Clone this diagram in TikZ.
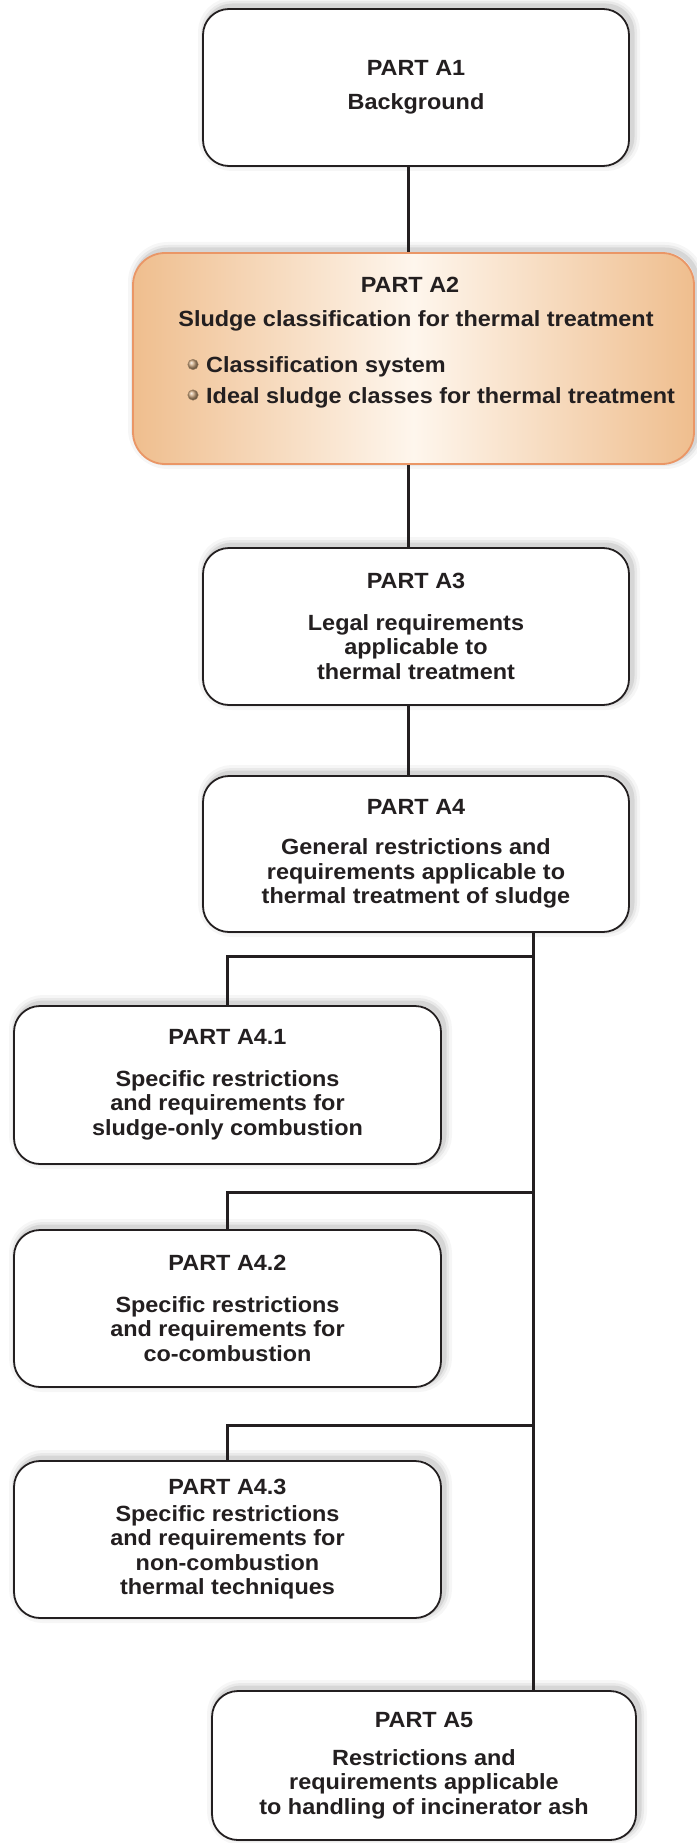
\documentclass[tikz,border=0pt]{standalone}
\usepackage{fontspec}
\setmainfont{Liberation Sans}[FakeStretch=1.065]
\usetikzlibrary{shadows}
\definecolor{ink}{RGB}{35,31,32}
\definecolor{a2edge}{RGB}{239,190,142}
\definecolor{a2mid}{RGB}{254,246,237}
\definecolor{a2line}{RGB}{234,150,102}
\definecolor{bullet}{RGB}{205,168,128}
\tikzset{
  softshadow/.style={
    general shadow={draw=black,draw opacity=0.035,line width=16pt,fill=none,shadow xshift=3pt,shadow yshift=3pt},
    general shadow={draw=black,draw opacity=0.05,line width=10pt,fill=none,shadow xshift=3pt,shadow yshift=3pt},
    general shadow={draw=black,draw opacity=0.08,line width=5pt,fill=none,shadow xshift=3pt,shadow yshift=3pt}},
  boxstyle/.style={rectangle,draw=ink,line width=1.8pt,rounded corners=26pt,fill=white,
    inner sep=0pt,align=center,text=ink,
    font=\fontsize{22}{24.5}\selectfont\bfseries,softshadow},
  orangebox/.style={boxstyle,draw=a2line,shading=axis,left color=a2edge,right color=a2edge,middle color=a2mid,rounded corners=32pt},
  txt/.style={inner sep=0pt,text=ink,font=\fontsize{22}{24.5}\selectfont\bfseries},
  conn/.style={draw=ink,line width=3pt},
  dot/.style={circle,inner sep=0pt,minimum size=10.5pt,shading=ball,ball color=bullet,draw=bullet!75!black,line width=0.4pt}
}
\begin{document}
\begin{tikzpicture}[x=1pt,y=-1pt]
\useasboundingbox (0,0) rectangle (696,1843);
\fill[white] (0,0) rectangle (696,1843);

\node[boxstyle,minimum width=426pt,minimum height=157pt] (a1) at (416,87.5)
  {PART A1\\[9pt]Background};

\node[orangebox,minimum width=561pt,minimum height=211pt] (a2) at (413.5,358.5) {};
\node[txt] (a2t) at (410,284.5) {PART A2};
\node[txt] (a2s) at (416,321) {Sludge classification for thermal treatment};
\node[txt,anchor=west] (a2b1) at (206,367) {Classification system};
\node[txt,anchor=west] (a2b2) at (206,397.5) {Ideal sludge classes for thermal treatment};
\node[dot] (d1) at (193,364.5) {};
\node[dot] (d2) at (193,395) {};

\node[boxstyle,minimum width=426pt,minimum height=157pt] (a3) at (416,626.5)
  {PART A3\\[17pt]Legal requirements\\applicable to\\thermal treatment};

\node[boxstyle,minimum width=426pt,minimum height=156pt] (a4) at (416,854)
  {PART A4\\[16pt]General restrictions and\\requirements applicable to\\thermal treatment of sludge};

\node[boxstyle,minimum width=427pt,minimum height=158pt] (a41) at (227.5,1085)
  {PART A4.1\\[17pt]Specific restrictions\\and requirements for\\sludge-only combustion};

\node[boxstyle,minimum width=427pt,minimum height=157pt] (a42) at (227.5,1308.5)
  {PART A4.2\\[17pt]Specific restrictions\\and requirements for\\co-combustion};

\node[boxstyle,minimum width=427pt,minimum height=157pt] (a43) at (227.5,1539.5)
  {PART A4.3\\[2pt]Specific restrictions\\and requirements for\\non-combustion\\thermal techniques};

\node[boxstyle,minimum width=424pt,minimum height=149pt] (a5) at (424,1765.5)
  {PART A5\\[13pt]Restrictions and\\requirements applicable\\to handling of incinerator ash};

\coordinate (j1) at (533,956);
\coordinate (j2) at (533,1192);
\coordinate (j3) at (533,1425);

\draw[conn] ([xshift=-8pt]a1.south) -- ([xshift=-8pt]a1.south |- a2.north);
\draw[conn] ([xshift=-8pt]a3.north |- a2.south) -- ([xshift=-8pt]a3.north);
\draw[conn] ([xshift=-8pt]a3.south) -- ([xshift=-8pt]a4.north);
\draw[conn] (a4.south -| j1) -- (a5.north -| j1);
\draw[conn] (j1) -| (a41.north);
\draw[conn] (j2) -| (a42.north);
\draw[conn] (j3) -| (a43.north);
\end{tikzpicture}
\end{document}
